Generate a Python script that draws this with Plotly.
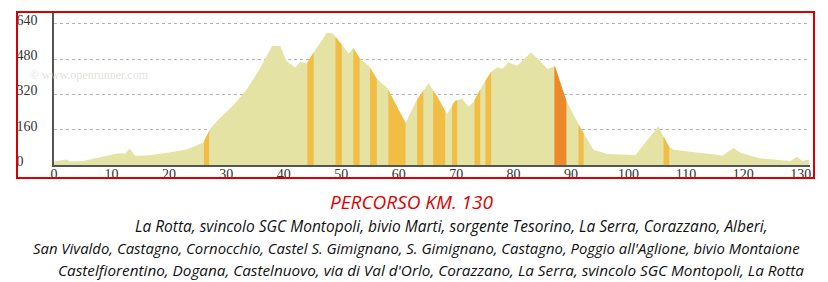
import numpy as np
import plotly.graph_objects as go

# ---- data ----
km = [0, 2.2, 2.8, 5, 8, 11, 12.4, 13.2, 14.1, 16.7, 20.8, 23.1, 26.0, 27.2, 29.0, 31.2,
      33.6, 35.9, 38.0, 38.8, 39.4, 40.5, 42.0, 42.9, 44.0, 45.2, 47.5, 48.6, 49.8, 51.3,
      52.1, 53.3, 54.8, 56.2, 58.0, 61.2, 63.2, 65.2, 66.7, 68.4, 69.8, 71.0, 72.2, 73.0,
      74.5, 76.0, 77.2, 78.0, 79.1, 80.6, 83.0, 84.3, 85.9, 87.2, 89.2, 91.4, 93.9, 96.3,
      101.2, 103.3, 105.2, 107.0, 107.9, 116.4, 118.3, 119.5, 123.0, 128.2, 129.3, 130.3, 131.4]
elev = [16, 25, 16, 18, 35, 52, 52, 75, 42, 44, 60, 70, 102, 165, 215, 270,
        345, 440, 540, 540, 538, 470, 442, 468, 460, 510, 600, 595, 555, 505,
        530, 480, 450, 390, 350, 190, 297, 370, 310, 230, 290, 300, 265, 285,
        357, 420, 443, 435, 465, 450, 510, 480, 435, 448, 290, 180, 69, 50,
        45, 114, 175, 84, 69, 43, 77, 55, 30, 18, 37, 18, 25]

stripe_start = [26.1, 44.1, 49.0, 52.1, 55.0, 58.2, 63.2, 66.0, 69.3, 73.2, 75.1, 87.1, 91.3, 106.1]
stripe_end = [27.0, 45.2, 50.1, 53.2, 56.2, 61.2, 64.3, 68.1, 70.2, 74.2, 76.1, 89.2, 92.2, 107.1]
stripe_kind = ["g", "g", "g", "g", "g", "g", "g", "g", "g", "g", "g", "o", "g", "g"]

x_ticks = [0, 10, 20, 30, 40, 50, 60, 70, 80, 90, 100, 110, 120, 130]
y_ticks = [0, 160, 320, 480, 640]

title_text = "PERCORSO KM. 130"
route_lines = [
    "La Rotta, svincolo SGC Montopoli, bivio Marti, sorgente Tesorino, La Serra, Corazzano, Alberi,",
    "San Vivaldo, Castagno, Cornocchio, Castel S. Gimignano, S. Gimignano, Castagno, Poggio all'Aglione, bivio Montaione",
    "Castelfiorentino, Dogana, Castelnuovo, via di Val d'Orlo, Corazzano, La Serra, svincolo SGC Montopoli, La Rotta",
]

# ---- styling ----
BASE = "#e5e3a3"
GOLD = "#f2bd45"
ORANGE = "#eb892b"
W, H = 828, 282
L, R, T, B = 54, 18, 13, 117
pw, ph = W - L - R, H - T - B


def px(xp):
    return (xp - L) / pw


def py(yp):
    return (H - B - yp) / ph


fig = go.Figure()
fig.add_trace(go.Scatter(x=km, y=elev, mode="lines", fill="tozeroy",
                         fillcolor=BASE, line=dict(width=0, color=BASE),
                         hoverinfo="skip", showlegend=False))

kx = np.array(km, dtype=float)
ky = np.array(elev, dtype=float)
for a, b, k in zip(stripe_start, stripe_end, stripe_kind):
    inner = kx[(kx > a) & (kx < b)]
    xs = np.concatenate([[a], inner, [b]])
    ys = np.interp(xs, kx, ky)
    xp = list(xs) + [b, a]
    yp = list(ys) + [0, 0]
    col = ORANGE if k == "o" else GOLD
    fig.add_trace(go.Scatter(x=xp, y=yp, mode="lines", fill="toself", fillcolor=col,
                             line=dict(width=0, color=col), hoverinfo="skip",
                             showlegend=False))

fig.update_xaxes(range=[0, 131.6], tickvals=x_ticks, showgrid=False, zeroline=False,
                 showline=True, linecolor="#555", linewidth=1.5,
                 tickfont=dict(family="Liberation Serif", size=14, color="#333"),
                 ticks="", ticklen=0, ticklabelstandoff=-5)
fig.update_yaxes(range=[0, 689], tickvals=y_ticks,
                 ticktext=["0\u2007\u2007", "160", "320", "480", "640"],
                 showgrid=True, gridcolor="#b5b5b5", griddash="dot", gridwidth=1,
                 zeroline=False, showline=True, linecolor="#555", linewidth=1.5,
                 tickfont=dict(family="Liberation Serif", size=14, color="#333"),
                 ticks="", ticklabelstandoff=12, ticklabelshift=-4)

shapes = [dict(type="rect", xref="paper", yref="paper",
               x0=px(17), x1=px(814), y0=py(178), y1=py(12),
               line=dict(color="#d80000", width=2), fillcolor="rgba(0,0,0,0)",
               layer="above")]

ann = [
    dict(text="\u00a9 www.openrunner.com", x=px(28), y=py(75), xref="paper", yref="paper",
         xanchor="left", yanchor="middle", showarrow=False,
         font=dict(family="Liberation Serif", size=12, color="rgba(200,200,190,0.55)")),
    dict(text=title_text, x=px(412), y=py(202), xref="paper", yref="paper",
         xanchor="center", yanchor="middle", showarrow=False,
         font=dict(family="Open Sans", size=19, color="#e00000", style="italic")),
]
line_centers = [451, 416, 431]
line_y = [226, 248, 270]
line_sizes = [15.5, 14.9, 15.3]
for t, cx, cy, fs in zip(route_lines, line_centers, line_y, line_sizes):
    ann.append(dict(text=t, x=px(cx), y=py(cy), xref="paper", yref="paper",
                    xanchor="center", yanchor="middle", showarrow=False,
                    font=dict(family="Open Sans", size=fs, color="#111", style="italic")))

fig.update_layout(width=W, height=H, margin=dict(l=L, r=R, t=T, b=B),
                  paper_bgcolor="white", plot_bgcolor="white",
                  shapes=shapes, annotations=ann, showlegend=False)

fig.write_html("out.html")
